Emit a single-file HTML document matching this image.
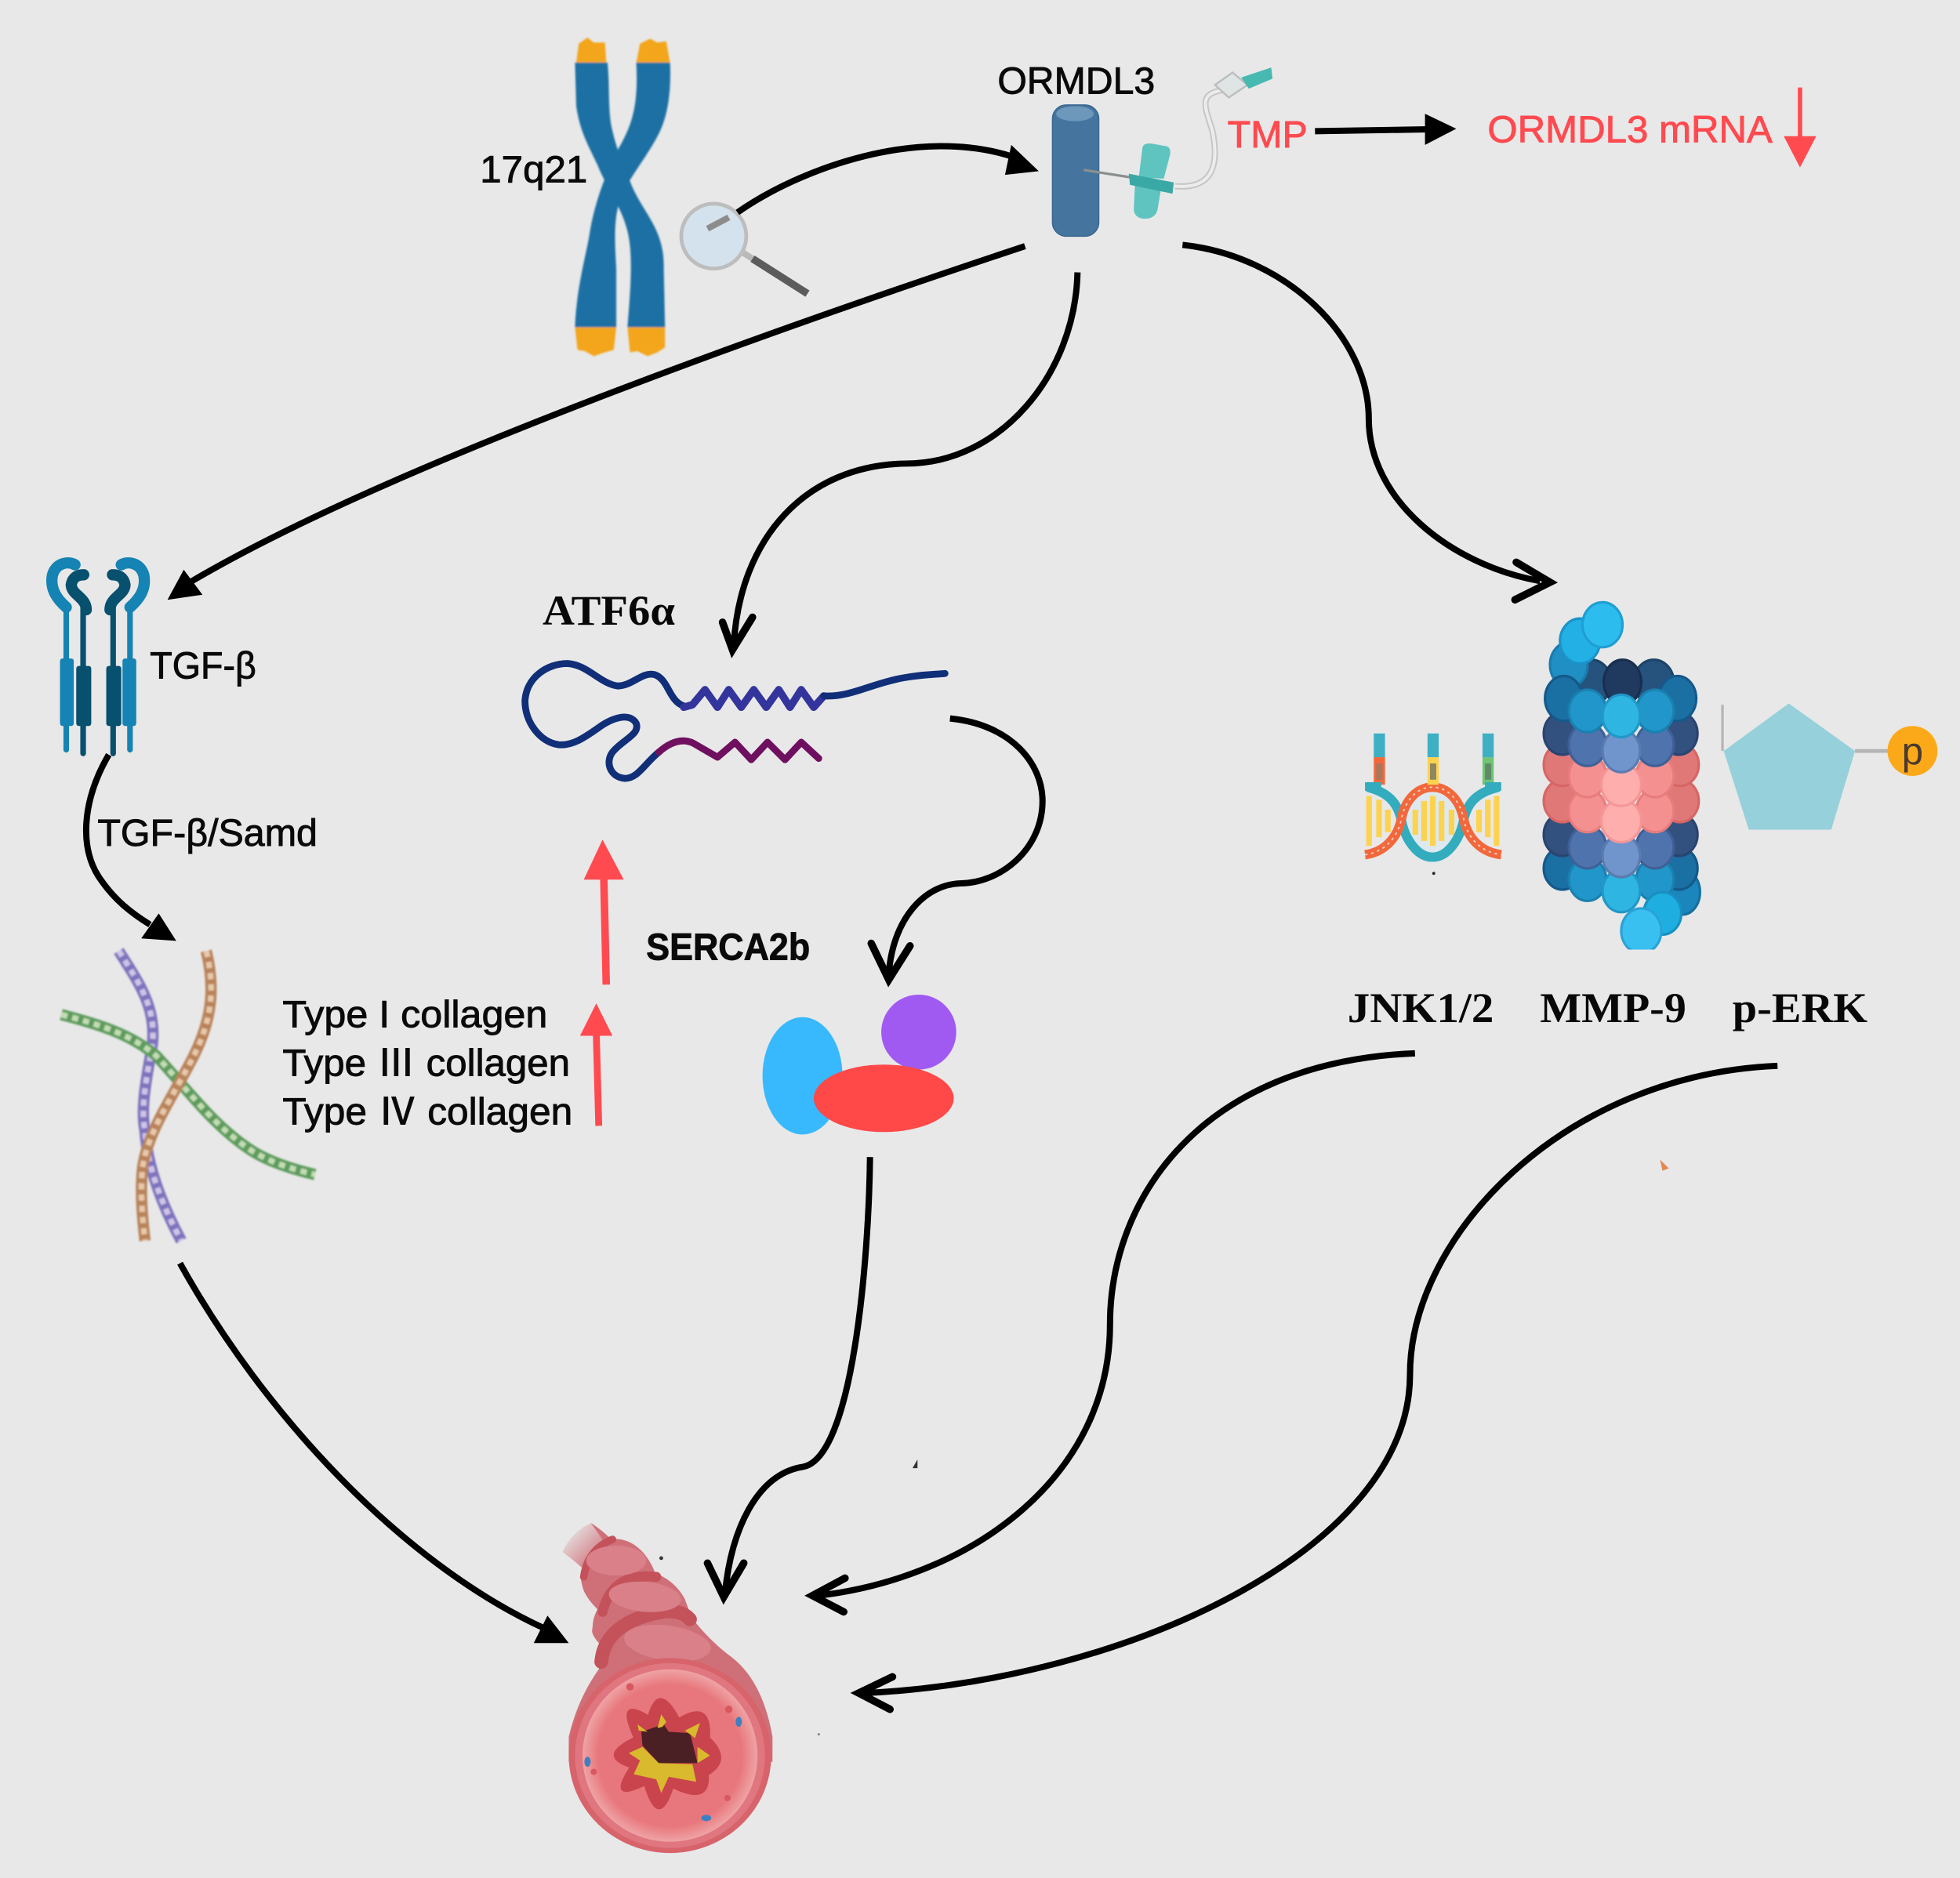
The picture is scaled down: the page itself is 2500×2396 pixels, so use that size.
<!DOCTYPE html>
<html lang="en">
<head>
<meta charset="utf-8">
<title>ORMDL3 pathway diagram</title>
<style>
html,body{margin:0;padding:0;background:#e8e8e8;width:2500px;height:2396px;overflow:hidden}
svg{display:block}
.s{font-family:"Liberation Sans","Noto Sans CJK SC",sans-serif;fill:#0a0a0a;stroke:#0a0a0a;stroke-width:.55px;font-size:30px}
.b{font-family:"Liberation Serif",serif;font-weight:bold;fill:#080808;font-size:34px}
.r{fill:#ff4a50;stroke:#ff4a50}
.k{fill:none;stroke:#000;stroke-width:5;stroke-linecap:butt}
.o{fill:none;stroke:#000;stroke-width:6;stroke-linecap:round;stroke-linejoin:miter}
</style>
</head>
<body>
<svg width="2500" height="2396" viewBox="0 0 1568 1503" preserveAspectRatio="none" xmlns="http://www.w3.org/2000/svg">
<defs>
<radialGradient id="inner" cx="50%" cy="50%" r="50%">
<stop offset="0.82" stop-color="#e7777c"/><stop offset="1" stop-color="#efa3a5"/>
</radialGradient>
<linearGradient id="fade" gradientUnits="userSpaceOnUse" x1="452" y1="1225" x2="480" y2="1252">
<stop offset="0" stop-color="#e8e8e8" stop-opacity="1"/><stop offset="1" stop-color="#e8e8e8" stop-opacity="0"/>
</linearGradient>
<clipPath id="mc"><rect x="1200" y="470" width="200" height="290"/></clipPath>
<filter id="soft"><feGaussianBlur stdDeviation="0.6"/></filter>
</defs>
<rect width="1568" height="1503" fill="#e8e8e8"/>

<!-- chromosome -->
<g filter="url(#soft)">
<path d="M460 50 L486 50 C488 70 486 90 490 105 C494 122 500 135 506 150 C516 172 532 185 531 215 L532 262 L502 262 C504 235 507 205 502 185 C497 165 485 150 478 132 C470 115 464 105 461 85Z" fill="#1a6fa3"/>
<path d="M509 50 L536 50 C537 70 535 90 528 105 C520 122 505 140 498 155 C490 172 492 195 493 215 L493 262 L460 262 C461 230 470 200 472 185 C476 160 488 130 497 115 C505 100 511 85 509 50Z" fill="#1a6fa3"/>
<path d="M461 50 L463 35 L470 30 L475 34 L484 34 L485 50Z" fill="#f3a51d"/>
<path d="M509 50 L512 35 L520 31 L526 34 L533 33 L536 50Z" fill="#f3a51d"/>
<path d="M460 262 L493 262 L491 280 L484 282 L475 285 L468 281 L462 280Z" fill="#f3a51d"/>
<path d="M502 262 L532 262 L532 278 L526 282 L518 285 L510 281 L504 282Z" fill="#f3a51d"/>
</g>

<!-- magnifier -->
<line x1="594" y1="202" x2="602" y2="207" stroke="#b9b9b9" stroke-width="5"/>
<line x1="602" y1="207" x2="646" y2="235" stroke="#5c5c5c" stroke-width="6"/>
<circle cx="571" cy="189" r="26" fill="#d3e2ec" stroke="#bdbdbd" stroke-width="3"/>
<line x1="566" y1="183" x2="583" y2="174" stroke="#8c8c8c" stroke-width="5"/>

<!-- ORMDL3 cylinder -->
<rect x="842" y="84" width="37" height="105" rx="11" fill="#45759f" stroke="#3a6791" stroke-width="1"/>
<ellipse cx="860" cy="91" rx="15" ry="6" fill="#6d98bb"/>

<!-- butterfly needle -->
<line x1="867" y1="136" x2="905" y2="142" stroke="#8b8f90" stroke-width="2"/>
<path d="M940 149 C975 152 974 125 970 105 C964 85 958 75 979 72" fill="none" stroke="#c6c6c6" stroke-width="5"/>
<path d="M940 149 C975 152 974 125 970 105 C964 85 958 75 979 72" fill="none" stroke="#ececec" stroke-width="2.5"/>
<path d="M914 118 Q915 114 922 115 L933 117 Q937 118 936 124 L931 143 L911 142Z" fill="#5fc4c0"/>
<path d="M908 147 L929 150 L926 168 Q924 175 916 175 Q908 175 907 168Z" fill="#5fc4c0"/>
<path d="M903 139 L939 146 L938 155 L904 148Z" fill="#3aa9a5"/>
<path d="M972 68 L986 58 L998 68 L983 78Z" fill="#dfe5e5" stroke="#bdbdbd" stroke-width="1.5"/>
<path d="M993 62 L1017 54 L1018 63 L999 71Z" fill="#46b9b0"/>

<!-- top arrow -->
<path class="k" d="M590 170 C640 135 735 100 812 126" stroke-width="6"/>
<polygon points="831,137 804,140 809,116" fill="#000"/>

<!-- top red section -->
<text class="s r" x="982" y="118" textLength="64" lengthAdjust="spacingAndGlyphs">TMP</text>
<line x1="1052" y1="105" x2="1142" y2="103.5" stroke="#000" stroke-width="5"/>
<polygon points="1165,103 1140,91 1140,116" fill="#000"/>
<text class="s r" x="1190" y="114" textLength="228" lengthAdjust="spacingAndGlyphs">ORMDL3 mRNA</text>
<line x1="1440" y1="70" x2="1440" y2="112" stroke="#ff4a50" stroke-width="3.5"/>
<polygon points="1440,134 1427,109 1453,109" fill="#ff4a50"/>

<text class="s" x="384" y="146" textLength="86" lengthAdjust="spacingAndGlyphs">17q21</text>
<text class="s" x="798" y="75" textLength="126" lengthAdjust="spacingAndGlyphs">ORMDL3</text>

<!-- arrow to TGF -->
<path class="k" d="M820 197 C600 270 300 378 152 466"/>
<polygon points="134,480 147,456 162,476" fill="#000"/>

<!-- arrow to ATF6 -->
<path class="k" d="M862 218 C860 300 800 371 725 371 C645 372 592 430 587 516"/>
<path class="o" d="M578 498 L586 520 L602 494"/>

<!-- arrow to MMP -->
<path class="k" d="M946 196 C1030 205 1095 270 1095 335 C1095 400 1160 452 1232 465"/>
<path class="o" d="M1213 450 L1240 466 L1212 480"/>

<!-- receptor -->
<g fill="none" stroke-linecap="round">
<path d="M53 600 V484" stroke="#1583b3" stroke-width="4.5"/>
<path d="M104 600 V484" stroke="#1583b3" stroke-width="4.5"/>
<path d="M53 486 C44 478 40 470 42 460 C45 450 55 449 60 452" stroke="#1583b3" stroke-width="9"/>
<path d="M104 486 C113 478 117 470 115 460 C112 450 102 449 97 452" stroke="#1583b3" stroke-width="9"/>
<path d="M66.5 603 V487" stroke="#07506e" stroke-width="4.5"/>
<path d="M90.5 603 V487" stroke="#07506e" stroke-width="4.5"/>
<path d="M69 488 C69 478 57 476 57 468 C58 462 62 460 67 460" stroke="#07506e" stroke-width="9"/>
<path d="M88 488 C88 478 100 476 100 468 C99 462 95 460 90 460" stroke="#07506e" stroke-width="9"/>
</g>
<rect x="48" y="527" width="11" height="54" rx="2" fill="#1583b3"/>
<rect x="98" y="527" width="11" height="54" rx="2" fill="#1583b3"/>
<rect x="61" y="533" width="12" height="48" rx="2" fill="#07506e"/>
<rect x="85" y="533" width="12" height="48" rx="2" fill="#07506e"/>

<text class="s" x="120" y="543" textLength="85" lengthAdjust="spacingAndGlyphs">TGF-β</text>
<text class="s" x="78" y="677" textLength="176" lengthAdjust="spacingAndGlyphs">TGF-β/Samd</text>

<!-- TGF to collagen -->
<path class="k" d="M87 604 C66 640 62 680 82 706 C92 720 104 730 120 740"/>
<polygon points="141,753 113,751 127,731" fill="#000"/>

<!-- collagen strands -->
<g fill="none" filter="url(#soft)">
<path d="M95 761 C110 785 125 805 122 835 C118 860 112 885 116 905 C118 935 130 965 145 993" stroke="#7e73bd" stroke-width="9"/>
<path d="M95 761 C110 785 125 805 122 835 C118 860 112 885 116 905 C118 935 130 965 145 993" stroke="#cfc4e6" stroke-width="4.5" stroke-dasharray="5 4"/>
<path d="M49 812 C80 820 105 828 125 845 C150 872 170 900 200 920 C215 930 235 936 252 940" stroke="#5d9c5d" stroke-width="9"/>
<path d="M49 812 C80 820 105 828 125 845 C150 872 170 900 200 920 C215 930 235 936 252 940" stroke="#c3dcb4" stroke-width="4.5" stroke-dasharray="5 4"/>
<path d="M165 761 C172 790 170 815 155 845 C140 875 118 905 114 935 C112 955 114 975 116 993" stroke="#b9835a" stroke-width="9"/>
<path d="M165 761 C172 790 170 815 155 845 C140 875 118 905 114 935 C112 955 114 975 116 993" stroke="#e6c8aa" stroke-width="4.5" stroke-dasharray="5 4"/>
</g>

<text class="s" x="226" y="822" textLength="212" lengthAdjust="spacingAndGlyphs">Type I collagen</text>
<text class="s" x="226" y="861" textLength="230" lengthAdjust="spacingAndGlyphs">Type Ⅲ collagen</text>
<text class="s" x="226" y="900" textLength="232" lengthAdjust="spacingAndGlyphs">Type Ⅳ collagen</text>

<!-- red up arrows -->
<line x1="485" y1="788" x2="483" y2="700" stroke="#ff4a50" stroke-width="6"/>
<polygon points="482,672 467,704 499,704" fill="#ff4a50"/>
<line x1="479" y1="901" x2="477" y2="826" stroke="#ff4a50" stroke-width="5.5"/>
<polygon points="477,803 464,829 490,829" fill="#ff4a50"/>

<!-- ATF6 -->
<text class="b" x="434" y="500" textLength="106" lengthAdjust="spacingAndGlyphs">ATF6α</text>
<g fill="none" stroke-width="5.5" stroke-linecap="round" stroke-linejoin="round">
<path d="M527 602 C515 612 510 623 500 623 C488 622 484 610 490 602 C498 592 512 588 509 579 C504 570 490 574 478 583 C468 590 458 597 447 596 C432 594 420 578 420 561 C421 542 438 531 454 531 C470 532 480 547 494 549 C506 549 514 537 524 540 C535 544 535 561 547 565" stroke="#102f78"/>
<path d="M547 566 L554 564 L564 552 L574 566 L583 552 L593 566 L603 552 L613 566 L623 552 L632 566 L641 552 L651 566 L659 557" stroke="#33349c" stroke-width="6"/>
<path d="M659 557 C680 558 695 548 720 543 C735 540 745 540 756 539" stroke="#102f78"/>
<path d="M527 602 C535 595 545 590 555 595 L574 606 L588 594 L601 608 L614 594 L628 608 L641 594 L655 607" stroke="#6f0f5f"/>
</g>

<!-- ATF6 to complex -->
<path class="k" d="M760 575 C810 580 834 612 834 641 C834 680 800 707 768 707 C740 708 714 735 711 780"/>
<path class="o" d="M697 755 L711 784 L728 757"/>

<text class="s" x="517" y="768" style="font-weight:bold" textLength="131" lengthAdjust="spacingAndGlyphs">SERCA2b</text>

<!-- complex -->
<ellipse cx="642" cy="861" rx="32" ry="47" fill="#39b9fd"/>
<circle cx="735" cy="826" r="30" fill="#a05af2"/>
<ellipse cx="707" cy="879" rx="56" ry="27" fill="#ff4848"/>

<!-- complex to airway -->
<path class="k" d="M696 926 C695 1010 682 1168 642 1174 C605 1180 585 1225 580 1275"/>
<path class="o" d="M566 1251 L579 1278 L595 1251"/>

<!-- collagen to airway -->
<path class="k" d="M144 1011 C210 1130 320 1250 435 1303"/>
<polygon points="455,1315 427,1315 438,1293" fill="#000"/>

<!-- DNA -->
<g>
<ellipse cx="1146" cy="657" rx="25" ry="29" fill="#dde9ee"/>
<g fill="#fdd24e">
<rect x="1093" y="637" width="4.5" height="40"/><rect x="1101" y="640" width="4.5" height="30"/><rect x="1108" y="648" width="4.5" height="18"/>
<rect x="1130" y="648" width="4.5" height="20"/><rect x="1137" y="641" width="4.5" height="32"/><rect x="1144" y="637" width="4.5" height="40"/><rect x="1151" y="641" width="4.5" height="32"/><rect x="1159" y="648" width="4.5" height="20"/>
<rect x="1181" y="648" width="4.5" height="18"/><rect x="1188" y="640" width="4.5" height="30"/><rect x="1195" y="637" width="4.5" height="40"/>
</g>
<path d="M1094 630 C1110 634 1118 642 1121 656 C1124 672 1134 686 1146 686 C1158 686 1168 672 1171 656 C1174 642 1182 634 1199 630" fill="none" stroke="#33acbd" stroke-width="7.5"/>
<path d="M1092 684 C1108 682 1118 670 1121 656 C1124 640 1134 630 1146 630 C1158 630 1168 640 1171 656 C1174 670 1184 682 1201 684" fill="none" stroke="#f2683c" stroke-width="7.5"/>
<path d="M1092 684 C1108 682 1118 670 1121 656 C1124 640 1134 630 1146 630 C1158 630 1168 640 1171 656 C1174 670 1184 682 1201 684" fill="none" stroke="#f8d2c0" stroke-width="1.2" stroke-dasharray="2 3"/>
<g stroke="none">
<rect x="1099" y="587" width="9" height="19" fill="#3fb0c4"/><rect x="1099" y="606" width="9" height="22" fill="#f2683c"/>
<rect x="1142" y="587" width="9" height="19" fill="#3fb0c4"/><rect x="1142" y="606" width="9" height="22" fill="#fdd24e"/>
<rect x="1186" y="587" width="9" height="19" fill="#3fb0c4"/><rect x="1186" y="606" width="9" height="22" fill="#6fc476"/>
<rect x="1101" y="611" width="5" height="13" fill="#a9775c"/>
<rect x="1144" y="611" width="5" height="13" fill="#8f8560"/>
<rect x="1188" y="611" width="5" height="13" fill="#5f8a68"/>
<rect x="1092" y="626" width="13" height="7" fill="#33acbd"/><rect x="1188" y="626" width="13" height="7" fill="#33acbd"/>
</g>
<circle cx="1147" cy="699" r="1.2" fill="#222"/>
</g>

<!-- MMP-9 -->
<g clip-path="url(#mc)">
<g stroke-width="2">
<ellipse cx="1273" cy="546" rx="16" ry="18" fill="#25537e" stroke="#1d4368"/>
<ellipse cx="1323" cy="546" rx="16" ry="18" fill="#25537e" stroke="#1d4368"/>
<ellipse cx="1298" cy="546" rx="15" ry="18" fill="#203a5f" stroke="#182e4e"/>
<ellipse cx="1255" cy="532" rx="15" ry="18" fill="#1f8fc4" stroke="#1a7cb0"/>
<ellipse cx="1264" cy="513" rx="16" ry="18" fill="#22b0e5" stroke="#1b93c8"/>
<ellipse cx="1282" cy="500" rx="16" ry="18" fill="#2cbced" stroke="#1f9fd2"/>
<ellipse cx="1346" cy="714" rx="14" ry="18" fill="#1a86bb" stroke="#156f9d"/>
</g>
<g stroke-width="2">
<g fill="#1a6fa3" stroke="#14598a"><ellipse cx="1250" cy="695" rx="15" ry="17"/><ellipse cx="1343" cy="695" rx="15" ry="17"/></g>
<g fill="#2196ca" stroke="#1a80b0"><ellipse cx="1270" cy="704" rx="15" ry="17"/><ellipse cx="1324" cy="704" rx="15" ry="17"/></g>
<ellipse cx="1297" cy="713" rx="15" ry="17" fill="#2fb5e1" stroke="#2098c8"/>
<g fill="#33517f" stroke="#2a4470"><ellipse cx="1250" cy="668" rx="15" ry="17"/><ellipse cx="1343" cy="668" rx="15" ry="17"/></g>
<g fill="#4f73ad" stroke="#3f6097"><ellipse cx="1270" cy="678" rx="15" ry="17"/><ellipse cx="1324" cy="678" rx="15" ry="17"/></g>
<ellipse cx="1297" cy="685" rx="15" ry="17" fill="#7094cc" stroke="#5a7bb0"/>
<g fill="#e07878" stroke="#d86565"><ellipse cx="1250" cy="641" rx="15" ry="17"/><ellipse cx="1344" cy="641" rx="15" ry="17"/></g>
<g fill="#f49090" stroke="#e87c7c"><ellipse cx="1270" cy="649" rx="15" ry="17"/><ellipse cx="1324" cy="649" rx="15" ry="17"/></g>
<ellipse cx="1297" cy="657" rx="16" ry="17" fill="#ffaeae" stroke="#f59696"/>
<g fill="#e07878" stroke="#d86565"><ellipse cx="1250" cy="612" rx="15" ry="17"/><ellipse cx="1344" cy="612" rx="15" ry="17"/></g>
<g fill="#f49090" stroke="#e87c7c"><ellipse cx="1270" cy="621" rx="15" ry="17"/><ellipse cx="1324" cy="621" rx="15" ry="17"/></g>
<ellipse cx="1297" cy="628" rx="16" ry="17" fill="#ffaeae" stroke="#f59696"/>
<g fill="#33517f" stroke="#2a4470"><ellipse cx="1250" cy="587" rx="15" ry="17"/><ellipse cx="1343" cy="587" rx="15" ry="17"/></g>
<g fill="#4f73ad" stroke="#3f6097"><ellipse cx="1270" cy="596" rx="15" ry="17"/><ellipse cx="1324" cy="596" rx="15" ry="17"/></g>
<ellipse cx="1297" cy="601" rx="15" ry="17" fill="#7094cc" stroke="#5a7bb0"/>
<g fill="#1a6fa3" stroke="#14598a"><ellipse cx="1251" cy="559" rx="15" ry="18"/><ellipse cx="1342" cy="559" rx="15" ry="18"/></g>
<g fill="#2196ca" stroke="#1a80b0"><ellipse cx="1270" cy="569" rx="15" ry="17"/><ellipse cx="1324" cy="569" rx="15" ry="17"/></g>
<ellipse cx="1297" cy="573" rx="15" ry="17" fill="#2fb5e1" stroke="#2098c8"/>
<ellipse cx="1330" cy="731" rx="15" ry="17" fill="#1eaee0" stroke="#1790c0"/>
<ellipse cx="1313" cy="745" rx="16" ry="18" fill="#39c0f0" stroke="#2aa2d5"/>
</g>
</g>

<!-- pentagon -->
<line x1="1378" y1="564" x2="1378" y2="601" stroke="#b4b4b4" stroke-width="2"/>
<polygon points="1431,563 1484,601 1465,664 1399,664 1379,601" fill="#96d0da"/>
<line x1="1484" y1="601" x2="1512" y2="601" stroke="#b4b4b4" stroke-width="3"/>
<circle cx="1530" cy="601" r="20" fill="#fba919"/>
<text x="1530" y="612" text-anchor="middle" style="font-family:'Liberation Sans',sans-serif;font-size:31px;fill:#4a3a30">p</text>

<text class="b" x="1078" y="818" textLength="117" lengthAdjust="spacingAndGlyphs">JNK1/2</text>
<text class="b" x="1232" y="818" textLength="117" lengthAdjust="spacingAndGlyphs">MMP-9</text>
<text class="b" x="1386" y="818" textLength="108" lengthAdjust="spacingAndGlyphs">p-ERK</text>

<!-- JNK / ERK to airway -->
<path class="k" d="M1132 843 C960 850 888 960 888 1060 C888 1180 780 1262 655 1277"/>
<path class="o" d="M676 1263 L650 1277 L675 1290"/>
<path class="k" d="M1422 853 C1250 860 1128 990 1128 1100 C1128 1240 900 1345 692 1355"/>
<path class="o" d="M714 1342 L687 1355 L712 1368"/>

<!-- airway -->
<g>
<path d="M450 1242 Q458 1225 473 1219 Q482 1225 489 1232 Q503 1230 515 1243 Q522 1252 524 1259 Q540 1265 548 1280 Q552 1292 556 1298 Q570 1315 585 1326 Q610 1345 618 1390 L618 1410 L455 1410 L455 1390 Q462 1360 479 1336 Q482 1325 481 1317 Q472 1308 474 1303 Q474 1295 478 1288 Q470 1280 467 1273 Q463 1262 466 1255 Q458 1248 450 1242Z" fill="#cf7078"/>
<path d="M445 1245 L470 1215 L482 1232 L460 1262Z" fill="url(#fade)"/>
<g fill="none" stroke="#c4525a" stroke-linecap="round">
<path d="M467 1262 Q470 1240 490 1232" stroke-width="6"/>
<path d="M482 1290 Q490 1258 525 1262" stroke-width="8"/>
<path d="M481 1330 Q484 1298 530 1290 Q545 1288 552 1296" stroke-width="11"/>
</g>
<ellipse cx="534" cy="1315" rx="35" ry="14" fill="#d98088" transform="rotate(8 534 1315)"/>
<ellipse cx="516" cy="1278" rx="29" ry="12" fill="#d98088" transform="rotate(5 516 1278)"/>
<ellipse cx="493" cy="1249" rx="24" ry="12" fill="#d98088"/>
<ellipse cx="536" cy="1405" rx="81" ry="78" fill="#d7636b"/>
<ellipse cx="536" cy="1405" rx="76" ry="74" fill="#e0767f"/>
<ellipse cx="536" cy="1405" rx="70" ry="69" fill="url(#inner)"/>
<path d="M519 1374 Q527 1345 543 1376 Q569 1360 567 1391 Q585.5 1408.5 566 1420 Q568 1445 538 1430 Q527 1465 516 1428 Q485.5 1443 505 1414 Q477.5 1405.5 508 1391 Q492.5 1357.5 519 1374Z" fill="#c9444c" stroke="#c9444c" stroke-width="2" stroke-linejoin="round"/>
<polygon points="513,1386 531,1380 535,1386 552,1387 558,1411 527,1411 514,1397" fill="#4a2024"/>
<polygon points="503,1403 514,1398 527,1411 554,1412 557,1426 535,1422 529,1435 525,1424 507,1420 512,1409" fill="#d9b92e"/>
<polygon points="529,1372 533,1378 530,1382 526,1383" fill="#d9b92e"/>
<polygon points="548,1385 560,1379 556,1391" fill="#d9b92e"/>
<polygon points="558,1398 568,1405 558,1411" fill="#d9b92e"/>
<polygon points="510,1380 518,1386 511,1385" fill="#d9b92e"/>
<ellipse cx="591" cy="1378" rx="2.5" ry="4" fill="#3d7fc0"/>
<ellipse cx="470" cy="1410" rx="2.5" ry="4" fill="#3d7fc0"/>
<ellipse cx="565" cy="1455" rx="4" ry="2.5" fill="#3d7fc0"/>
<circle cx="504" cy="1350" r="3" fill="#d9575f"/><circle cx="583" cy="1368" r="3" fill="#d9575f"/><circle cx="475" cy="1418" r="2.5" fill="#d9575f"/><circle cx="582" cy="1439" r="2.5" fill="#d9575f"/>
<circle cx="529" cy="1247" r="1.5" fill="#333"/>
</g>

<!-- specks -->
<path d="M1328 928 L1335 935 L1330 937Z" fill="#e08a50"/>
<path d="M730 1175 L734 1168 L734 1175Z" fill="#333"/>
<circle cx="655" cy="1388" r="1" fill="#888"/>
</svg>
</body>
</html>
